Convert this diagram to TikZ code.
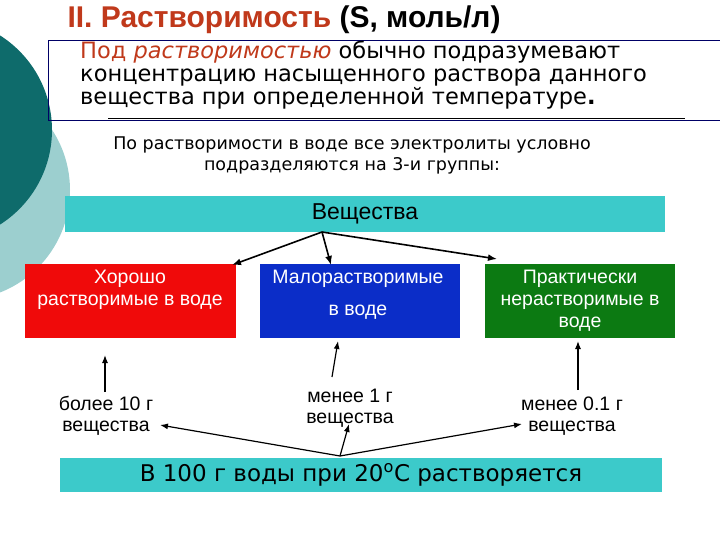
\documentclass[tikz,border=0pt]{standalone}
\usepackage{fontspec}
\setmainfont{DejaVu Sans}
\newfontfamily\arial{Liberation Sans}
\usetikzlibrary{arrows.meta}
\definecolor{tealD}{HTML}{0E6B6B}
\definecolor{tealL}{HTML}{9CCFCF}
\definecolor{cyanbar}{HTML}{3CCACA}
\definecolor{titlered}{HTML}{C0391B}
\definecolor{boxred}{HTML}{F00A0A}
\definecolor{boxblue}{HTML}{0B2DC8}
\definecolor{boxgreen}{HTML}{0C7A12}
\begin{document}
\begin{tikzpicture}[x=1pt,y=-1pt,
  bar/.style={fill=cyanbar,draw=none},
  box/.style={draw=none,text=white,align=center,font=\arial\fontsize{19.5}{22}\selectfont},
  lbl/.style={align=center,font=\arial\fontsize{19.5}{21}\selectfont},
  arr/.style={-{Latex[length=9pt,width=7pt]},line width=1.6pt},
  uarr/.style={-{Latex[length=8pt,width=6pt]},line width=1.2pt}]
\useasboundingbox (0,0) rectangle (720,540);
\fill[tealL] (-40,190) circle (110);
\fill[tealD] (-60,130) circle (112);
\draw[draw=blue!40!black,line width=0.6pt] (720,40) -- (48,40) -- (48,120) -- (720,120);
\draw[line width=0.8pt] (108,118) -- (685,118);
\node[anchor=west,font=\arial\bfseries\fontsize{30}{34}\selectfont] (title) at (64,20) {\textcolor{titlered}{II. Растворимость} (S, моль/л)};
\node[anchor=north west,align=left,font=\fontsize{22.5}{23}\selectfont,inner sep=0] (intro) at (80,41) {\textcolor{titlered}{Под \textit{растворимостью}} обычно подразумевают\\ концентрацию насыщенного раствора данного\\ вещества при определенной температуре\textbf{.}};
\node[align=center,font=\fontsize{17.5}{21}\selectfont] (groups) at (352,155) {По растворимости в воде все электролиты условно\\подразделяются на 3-и группы:};
\node[bar,minimum width=600,minimum height=36,font=\arial\fontsize{23}{26}\selectfont] (sub) at (365,214) {Вещества};
\node[box,fill=boxred,minimum width=211,minimum height=74,anchor=north west] (good) at (25,264) {};
\node[box,anchor=north] at (130,267) {Хорошо\\растворимые в воде};
\node[box,fill=boxblue,minimum width=200,minimum height=74,anchor=north west] (low) at (260,264) {};
\node[box,anchor=north] at (358,267) {Малорастворимые};
\node[box] at (358,312) {в воде};
\node[box,fill=boxgreen,minimum width=190,minimum height=74,anchor=north west] (ins) at (485,264) {};
\node[box,anchor=north] at (580,267) {Практически\\нерастворимые в\\воде};
\coordinate (top) at (322,232);
\draw[arr] (top) -- (232,265);
\draw[arr] (top) -- (331,265);
\draw[arr] (top) -- (497,259);
\node[lbl] (l1) at (106,416) {более 10 г\\вещества};
\node[lbl] (l2) at (350,408) {менее 1 г\\вещества};
\node[lbl] (l3) at (572,416) {менее 0.1 г\\вещества};
\draw[uarr] (105,392) -- (105,355);
\draw[uarr] (332,377) -- (338,341);
\draw[uarr] (578,390) -- (578,341);
\node[bar,minimum width=602,minimum height=34,font=\fontsize{23}{26}\selectfont] (water) at (361,475) {В 100 г воды при 20$^{\mathrm{o}}$С растворяется};
\coordinate (src) at (340,456);
\draw[uarr] (src) -- (160,425);
\draw[uarr] (src) -- (349,424);
\draw[uarr] (src) -- (522,424);
\end{tikzpicture}
\end{document}
